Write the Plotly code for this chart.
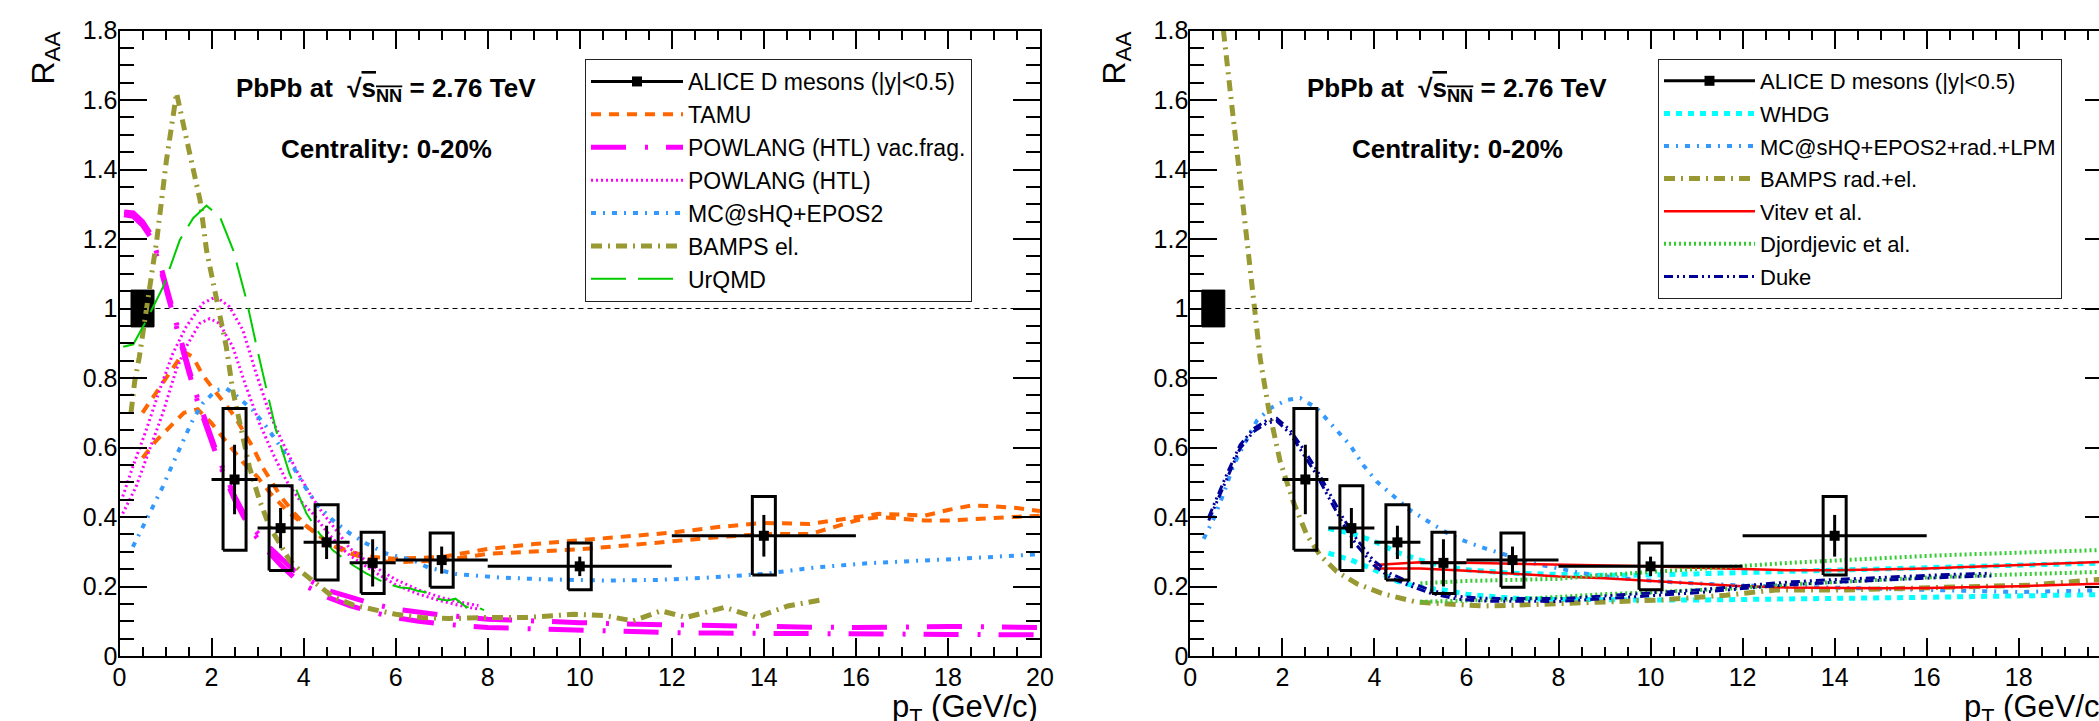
import plotly.graph_objects as go

W, H = 2099, 721
FONT = "Liberation Sans, Arial, Helvetica, sans-serif"

# ---------------- ALICE D-meson data (0-20%) ----------------
pt = [2.5, 3.5, 4.5, 5.5, 7.0, 10.0, 14.0]
pt_halfwidth = [0.5, 0.5, 0.5, 0.5, 1.0, 2.0, 2.0]
raa = [0.508, 0.368, 0.327, 0.268, 0.276, 0.258, 0.346]
raa_stat = [0.100, 0.058, 0.048, 0.068, 0.039, 0.028, 0.060]
raa_syst = [0.204, 0.122, 0.108, 0.088, 0.078, 0.067, 0.113]
syst_box_halfwidth = 0.25
norm_center = [0.5]
norm_value = [1.0]
norm_halfwidth = [0.25]
norm_unc = [0.053]
unity_x = [0, 20]
unity_y = [1, 1]

# ---------------- Left panel models ----------------
tamu_up_x = [0.5, 0.8, 1.1, 1.4, 1.6, 1.8, 2.0, 2.3, 2.5, 2.7, 2.9, 3.1, 3.3, 3.5, 3.8, 4.1, 4.5, 5.0, 5.5, 6.0, 7.0, 8.0, 9.0, 10.0, 11.0, 12.0, 13.0, 14.0, 15.0, 15.5, 16.0, 16.5, 17.0, 17.5, 18.0, 18.5, 19.0, 19.5, 20.0]
tamu_up_y = [0.70, 0.76, 0.82, 0.875, 0.86, 0.81, 0.775, 0.725, 0.69, 0.645, 0.60, 0.545, 0.50, 0.46, 0.41, 0.37, 0.33, 0.30, 0.285, 0.28, 0.285, 0.308, 0.322, 0.333, 0.342, 0.355, 0.371, 0.383, 0.38, 0.39, 0.40, 0.409, 0.407, 0.404, 0.42, 0.433, 0.431, 0.426, 0.417]
tamu_lo_x = [0.5, 0.8, 1.1, 1.4, 1.7, 2.0, 2.3, 2.7, 3.0, 3.3, 3.7, 4.0, 4.3, 4.6, 4.9, 5.5, 6.0, 7.0, 8.0, 9.0, 10.0, 11.0, 12.0, 13.0, 14.0, 15.0, 15.5, 16.0, 16.5, 17.0, 17.5, 18.0, 18.5, 19.0, 19.5, 20.0]
tamu_lo_y = [0.57, 0.62, 0.66, 0.70, 0.71, 0.67, 0.62, 0.555, 0.515, 0.465, 0.41, 0.38, 0.35, 0.32, 0.30, 0.275, 0.27, 0.275, 0.294, 0.30, 0.307, 0.318, 0.33, 0.342, 0.351, 0.351, 0.37, 0.39, 0.40, 0.395, 0.39, 0.39, 0.393, 0.397, 0.40, 0.404]

pwl_vac_x = [0.1, 0.3, 0.5, 0.7, 0.9, 1.1, 1.3, 1.5, 1.7, 1.9, 2.1, 2.3, 2.5, 2.7, 2.9, 3.2, 3.5, 3.8, 4.1, 4.5, 5.0, 5.5, 6.0, 6.5, 7.0, 8.0, 9.0, 10.0, 11.0, 12.0, 13.0, 14.0, 15.0, 16.0, 17.0, 18.0, 19.0, 20.0]
pwl_vac_up_y = [1.278, 1.275, 1.25, 1.21, 1.12, 1.02, 0.92, 0.83, 0.74, 0.66, 0.59, 0.52, 0.46, 0.41, 0.37, 0.32, 0.28, 0.245, 0.22, 0.19, 0.17, 0.15, 0.135, 0.125, 0.118, 0.106, 0.10, 0.096, 0.092, 0.089, 0.087, 0.085, 0.083, 0.082, 0.084, 0.085, 0.084, 0.082]
pwl_vac_lo_y = [1.27, 1.265, 1.24, 1.20, 1.11, 1.01, 0.91, 0.82, 0.73, 0.65, 0.58, 0.51, 0.45, 0.40, 0.355, 0.305, 0.262, 0.225, 0.198, 0.17, 0.145, 0.126, 0.11, 0.10, 0.092, 0.082, 0.078, 0.075, 0.07, 0.067, 0.066, 0.066, 0.065, 0.064, 0.063, 0.062, 0.061, 0.061]

pwl_htl_up_x = [0.07, 0.29, 0.58, 0.87, 1.16, 1.45, 1.81, 2.10, 2.39, 2.68, 2.97, 3.26, 3.55, 3.84, 4.13, 4.42, 4.71, 5.0, 5.5, 6.0, 6.5, 7.0, 7.5, 7.8]
pwl_htl_up_y = [0.459, 0.545, 0.65, 0.765, 0.871, 0.948, 1.015, 1.034, 1.005, 0.938, 0.813, 0.698, 0.612, 0.535, 0.468, 0.41, 0.362, 0.31, 0.26, 0.22, 0.19, 0.168, 0.152, 0.145]
pwl_htl_lo_x = [0.07, 0.36, 0.65, 0.94, 1.23, 1.45, 1.74, 1.96, 2.17, 2.46, 2.75, 3.04, 3.33, 3.62, 3.91, 4.2, 4.49, 4.75, 5.0, 5.5, 6.0, 6.5, 7.0, 7.5, 7.8]
pwl_htl_lo_y = [0.41, 0.487, 0.593, 0.698, 0.823, 0.89, 0.957, 0.971, 0.957, 0.89, 0.775, 0.67, 0.583, 0.506, 0.449, 0.41, 0.36, 0.32, 0.29, 0.245, 0.205, 0.178, 0.158, 0.142, 0.135]

mcshq_x = [0.29, 0.51, 0.72, 0.94, 1.16, 1.38, 1.59, 1.81, 2.1, 2.32, 2.53, 2.9, 3.19, 3.4, 3.69, 3.98, 4.27, 4.63, 5.0, 5.36, 5.79, 6.37, 6.7, 7.31, 8.23, 9.14, 10.55, 11.7, 12.84, 13.98, 15.13, 16.27, 17.41, 18.56, 19.85, 20.0]
mcshq_y = [0.314, 0.372, 0.429, 0.487, 0.554, 0.621, 0.679, 0.727, 0.765, 0.77, 0.75, 0.707, 0.66, 0.621, 0.564, 0.497, 0.439, 0.391, 0.353, 0.324, 0.295, 0.276, 0.255, 0.236, 0.226, 0.221, 0.217, 0.219, 0.226, 0.236, 0.255, 0.267, 0.274, 0.282, 0.292, 0.293]

bamps_el_x = [0.25, 0.33, 0.43, 0.58, 0.81, 1.02, 1.24, 1.46, 1.75, 1.89, 2.1, 2.32, 2.46, 2.68, 2.82, 3.04, 3.26, 3.48, 3.69, 3.91, 4.27, 4.63, 5.07, 5.48, 6.0, 6.55, 7.16, 8.07, 8.84, 9.87, 10.55, 11.16, 11.77, 12.31, 13.15, 13.83, 14.52, 15.24]
bamps_el_y = [0.70, 0.79, 0.86, 0.99, 1.197, 1.427, 1.62, 1.485, 1.312, 1.168, 1.04, 0.89, 0.765, 0.631, 0.545, 0.449, 0.372, 0.324, 0.276, 0.247, 0.209, 0.171, 0.147, 0.135, 0.12, 0.111, 0.108, 0.111, 0.111, 0.12, 0.116, 0.101, 0.13, 0.111, 0.14, 0.111, 0.144, 0.161]

urqmd_x = [0.08, 0.3, 0.59, 0.95, 1.31, 1.6, 1.89, 2.18, 2.47, 2.76, 2.98, 3.2, 3.4, 3.69, 4.06, 4.34, 4.63, 5.0, 5.36, 5.79, 6.1, 6.3, 6.47, 6.7, 6.93, 7.13, 7.3, 7.54, 7.7, 7.92]
urqmd_y = [0.89, 0.897, 0.967, 1.063, 1.197, 1.26, 1.296, 1.264, 1.168, 1.024, 0.89, 0.76, 0.65, 0.526, 0.411, 0.353, 0.305, 0.267, 0.238, 0.209, 0.197, 0.195, 0.188, 0.182, 0.164, 0.16, 0.165, 0.14, 0.145, 0.132]

# ---------------- Right panel models ----------------
whdg_x = [3.0, 3.5, 4.0, 4.5, 5.0, 5.5, 6.0, 7.0, 8.0, 9.0, 10.0, 11.0, 12.0, 13.0, 14.0, 15.0, 16.0, 17.0, 18.0, 19.0, 20.0]
whdg_up_y = [0.367, 0.353, 0.33, 0.298, 0.276, 0.258, 0.248, 0.238, 0.235, 0.232, 0.233, 0.236, 0.239, 0.242, 0.245, 0.25, 0.254, 0.258, 0.262, 0.265, 0.268]
whdg_lo_y = [0.296, 0.276, 0.248, 0.215, 0.197, 0.19, 0.178, 0.166, 0.163, 0.161, 0.161, 0.161, 0.162, 0.163, 0.165, 0.167, 0.169, 0.171, 0.173, 0.175, 0.177]

mcshq_lpm_x = [0.29, 0.51, 0.72, 0.94, 1.16, 1.45, 1.74, 2.1, 2.39, 2.75, 3.11, 3.47, 3.76, 4.05, 4.41, 4.77, 5.21, 5.64, 6.07, 6.44, 7.44, 8.52, 9.5, 10.5, 12.0, 14.0, 16.0, 18.0, 20.0]
mcshq_lpm_y = [0.337, 0.396, 0.466, 0.549, 0.607, 0.678, 0.713, 0.737, 0.742, 0.713, 0.66, 0.607, 0.549, 0.502, 0.461, 0.42, 0.384, 0.349, 0.325, 0.308, 0.267, 0.238, 0.222, 0.212, 0.203, 0.197, 0.19, 0.184, 0.19]

bamps_rad_x = [0.72, 0.94, 1.08, 1.23, 1.37, 1.52, 1.70, 1.95, 2.24, 2.53, 2.82, 3.18, 3.62, 4.19, 4.92, 5.64, 6.36, 7.0, 8.0, 9.1, 10.19, 11.64, 12.72, 14.17, 16.1, 18.28, 19.58, 20.0]
bamps_rad_y = [1.80, 1.535, 1.359, 1.183, 1.007, 0.854, 0.713, 0.561, 0.443, 0.349, 0.29, 0.243, 0.208, 0.179, 0.155, 0.15, 0.144, 0.146, 0.15, 0.156, 0.161, 0.175, 0.19, 0.19, 0.195, 0.204, 0.219, 0.222]

vitev_x = [4.0, 5.0, 6.0, 7.0, 8.0, 9.0, 10.0, 11.0, 12.0, 13.0, 14.0, 15.0, 16.0, 17.0, 18.0, 19.0, 20.0]
vitev_up_y = [0.262, 0.27, 0.268, 0.266, 0.264, 0.262, 0.258, 0.254, 0.25, 0.247, 0.247, 0.249, 0.252, 0.257, 0.262, 0.267, 0.272]
vitev_lo_y = [0.252, 0.252, 0.245, 0.236, 0.229, 0.224, 0.216, 0.207, 0.201, 0.197, 0.195, 0.195, 0.196, 0.198, 0.201, 0.205, 0.209]

djord_x = [5.0, 6.0, 7.0, 8.0, 9.0, 10.0, 11.0, 12.0, 13.0, 14.0, 15.0, 16.0, 17.0, 18.0, 19.0, 20.0]
djord_up_y = [0.209, 0.216, 0.219, 0.222, 0.233, 0.241, 0.25, 0.259, 0.268, 0.275, 0.282, 0.288, 0.293, 0.298, 0.302, 0.306]
djord_lo_y = [0.156, 0.159, 0.163, 0.17, 0.178, 0.183, 0.189, 0.196, 0.206, 0.213, 0.22, 0.226, 0.231, 0.235, 0.239, 0.243]

duke_x = [0.4, 0.8, 1.08, 1.37, 1.66, 1.88, 2.17, 2.46, 2.75, 3.04, 3.33, 3.62, 3.98, 4.34, 4.77, 5.21, 5.78, 6.36, 7.0, 8.0, 9.0, 10.0, 11.0, 12.0, 13.0, 14.0, 15.0, 16.0, 17.0, 17.4]
duke_up_y = [0.40, 0.525, 0.607, 0.654, 0.678, 0.684, 0.65, 0.595, 0.535, 0.465, 0.395, 0.335, 0.275, 0.238, 0.212, 0.19, 0.172, 0.166, 0.165, 0.165, 0.173, 0.181, 0.19, 0.202, 0.213, 0.22, 0.227, 0.232, 0.237, 0.238]
duke_lo_y = [0.39, 0.515, 0.597, 0.645, 0.67, 0.676, 0.64, 0.58, 0.52, 0.448, 0.378, 0.318, 0.262, 0.226, 0.202, 0.181, 0.164, 0.158, 0.157, 0.157, 0.165, 0.173, 0.182, 0.194, 0.205, 0.212, 0.219, 0.224, 0.229, 0.23]


def join(*curves):
    xs, ys = [], []
    for cx, cy in curves:
        if xs:
            xs.append(None)
            ys.append(None)
        xs += list(cx)
        ys += list(cy)
    return xs, ys


left_models = [
    ("TAMU", join((tamu_up_x, tamu_up_y), (tamu_lo_x, tamu_lo_y)), "#FF6600", 4, "10px,8px"),
    ("POWLANG (HTL) vac.frag.", join((pwl_vac_x, pwl_vac_up_y), (pwl_vac_x, pwl_vac_lo_y)), "#FF00FF", 5, "35px,19px,3px,18px"),
    ("POWLANG (HTL)", join((pwl_htl_up_x, pwl_htl_up_y), (pwl_htl_lo_x, pwl_htl_lo_y)), "#FF00FF", 3, "2px,3px"),
    ("MC@sHQ+EPOS2", join((mcshq_x, mcshq_y)), "#3399FF", 4, "5px,7px,2px,7px"),
    ("BAMPS el.", join((bamps_el_x, bamps_el_y)), "#999933", 5, "11px,6px,2px,6px"),
    ("UrQMD", join((urqmd_x, urqmd_y)), "#00CC00", 2, "35px,12px"),
]
right_models = [
    ("WHDG", join((whdg_x, whdg_up_y), (whdg_x, whdg_lo_y)), "#00FFFF", 5, "6px,6px"),
    ("MC@sHQ+EPOS2+rad.+LPM", join((mcshq_lpm_x, mcshq_lpm_y)), "#3399FF", 4, "5px,7px,2px,7px"),
    ("BAMPS rad.+el.", join((bamps_rad_x, bamps_rad_y)), "#999933", 5, "11px,6px,2px,6px"),
    ("Vitev et al.", join((vitev_x, vitev_up_y), (vitev_x, vitev_lo_y)), "#FF0000", 2.5, "solid"),
    ("Djordjevic et al.", join((djord_x, djord_up_y), (djord_x, djord_lo_y)), "#33CC33", 4, "2px,3px"),
    ("Duke", join((duke_x, duke_up_y), (duke_x, duke_lo_y)), "#000099", 3, "9px,4px,2px,4px,2px,4px"),
]


def boxes(xc, yc, hx, hy):
    xs, ys = [], []
    for x, y, dx, dy in zip(xc, yc, hx, hy):
        xs += [x - dx, x + dx, x + dx, x - dx, x - dx, None]
        ys += [y - dy, y - dy, y + dy, y + dy, y - dy, None]
    return xs, ys


fig = go.Figure()


def add_panel(models, xa, ya, legend, unity_yaxis):
    fig.add_trace(go.Scatter(x=unity_x, y=unity_y, mode="lines", xaxis=xa, yaxis=unity_yaxis,
                             line=dict(color="black", width=1, dash="5px,4px"),
                             showlegend=False, hoverinfo="skip"))
    nx, ny = boxes(norm_center, norm_value, norm_halfwidth, norm_unc)
    fig.add_trace(go.Scatter(x=nx, y=ny, mode="lines", fill="toself", fillcolor="black",
                             line=dict(color="black", width=1), xaxis=xa, yaxis=ya,
                             showlegend=False, hoverinfo="skip"))
    for i, (name, (mx, my), color, width, dash) in enumerate(models):
        fig.add_trace(go.Scatter(x=mx, y=my, mode="lines", name=name, xaxis=xa, yaxis=ya,
                                 line=dict(color=color, width=width, dash=dash),
                                 legend=legend, legendrank=10 + i, legendgroup=legend + name))
    bx, by = boxes(pt, raa, [syst_box_halfwidth] * len(pt), raa_syst)
    fig.add_trace(go.Scatter(x=bx, y=by, mode="lines", line=dict(color="black", width=3),
                             xaxis=xa, yaxis=ya, showlegend=False, hoverinfo="skip"))
    fig.add_trace(go.Scatter(x=pt, y=raa, mode="markers", xaxis=xa, yaxis=ya,
                             marker=dict(symbol="square", size=10, color="black"),
                             error_x=dict(type="data", array=pt_halfwidth, color="black", thickness=3, width=0),
                             error_y=dict(type="data", array=raa_stat, color="black", thickness=3, width=0),
                             showlegend=False))
    fig.add_trace(go.Scatter(x=[None], y=[None], mode="lines+markers", name="ALICE D mesons (|y|<0.5)",
                             xaxis=xa, yaxis=ya, legend=legend, legendrank=1, legendgroup=legend + "alice",
                             line=dict(color="black", width=3),
                             marker=dict(symbol="square", size=10, color="black")))


add_panel(left_models, "x", "y", "legend", "y")
add_panel(right_models, "x2", "y2", "legend2", "y3")

px_per_unit = (1040 - 119.5) / 20.0
x2_left = 1190.3
x2_range_max = (W - x2_left) / px_per_unit
y_dom = [(H - 656) / H, (H - 30.5) / H]

xcommon = dict(ticks="inside", ticklen=18, tickwidth=2, tickcolor="black", dtick=2, tick0=0,
               minor=dict(ticks="inside", ticklen=9, tickwidth=1.5, dtick=0.5, tick0=0, tickcolor="black"),
               showline=True, linewidth=2, linecolor="black", mirror="ticks", automargin=False,
               showgrid=False, zeroline=False, tickfont=dict(family=FONT, size=25, color="black"),
               ticklabelstandoff=-2)
ycommon = dict(ticks="inside", ticklen=27, tickwidth=2, tickcolor="black", dtick=0.2, tick0=0,
               minor=dict(ticks="inside", ticklen=14, tickwidth=1.5, dtick=0.05, tick0=0, tickcolor="black"),
               showline=True, linewidth=2, linecolor="black", automargin=False,
               showgrid=False, zeroline=False, tickfont=dict(family=FONT, size=25, color="black"),
               range=[0, 1.8], domain=y_dom, ticklabelstandoff=-5)

fig.update_layout(
    template="none",
    width=W, height=H, autosize=False,
    margin=dict(l=0, r=0, t=0, b=0, pad=0),
    paper_bgcolor="white", plot_bgcolor="white",
    font=dict(family=FONT, color="black"),
    xaxis=dict(domain=[119.5 / W, 1040 / W], range=[0, 20], anchor="y", **xcommon),
    yaxis=dict(anchor="x", mirror="ticks", **ycommon),
    xaxis2=dict(domain=[x2_left / W, 1.0], range=[0, x2_range_max], anchor="y2", **xcommon),
    yaxis2=dict(anchor="x2", mirror=False, **ycommon),
    yaxis3=dict(overlaying="y2", anchor="free", position=1.0, side="right", range=[0, 1.8],
                ticks="inside", ticklen=14, tickwidth=2, tickcolor="black", dtick=0.2, tick0=0,
                showticklabels=False, showline=False, showgrid=False, zeroline=False, automargin=False),
    legend=dict(x=585 / W, y=(H - 59) / H, xanchor="left", yanchor="top",
                bordercolor="#222222", borderwidth=1, bgcolor="white",
                font=dict(family=FONT, size=23, color="black"), itemwidth=92,
                tracegroupgap=0, traceorder="grouped"),
    legend2=dict(x=1658 / W, y=(H - 59) / H, xanchor="left", yanchor="top",
                 bordercolor="#222222", borderwidth=1, bgcolor="white",
                 font=dict(family=FONT, size=22, color="black"), itemwidth=91,
                 tracegroupgap=1, traceorder="grouped"),
    showlegend=True,
)

sqrt_txt = "<b>PbPb at  \u221a<span style='text-decoration:overline'>s<sub>NN</sub></span> = 2.76 TeV</b>"
cent_txt = "<b>Centrality: 0-20%</b>"
annos = []
for xr, yr in (("x", "y"), ("x2", "y2")):
    annos.append(dict(x=5.8, y=1.63, xref=xr, yref=yr, text=sqrt_txt, showarrow=False,
                      xanchor="center", yanchor="middle", font=dict(family=FONT, size=26)))
    annos.append(dict(x=5.8, y=1.459, xref=xr, yref=yr, text=cent_txt, showarrow=False,
                      xanchor="center", yanchor="middle", font=dict(family=FONT, size=26)))
for xt in (1040 / W, 2112 / W):
    annos.append(dict(x=xt, y=-10 / H, xref="paper", yref="paper", text="p<sub>T</sub> (GeV/c)",
                      showarrow=False, xanchor="right", yanchor="bottom",
                      font=dict(family=FONT, size=31)))
for xt in (45 / W, 1116 / W):
    annos.append(dict(x=xt, y=(H - 30) / H, xref="paper", yref="paper", text="R<sub>AA</sub>",
                      textangle=-90, showarrow=False, xanchor="center", yanchor="top",
                      font=dict(family=FONT, size=32)))
fig.update_layout(annotations=annos)

fig.write_html("out.html", config={"displayModeBar": False},
               post_script="document.body.style.margin='0';document.body.style.overflow='hidden';")
